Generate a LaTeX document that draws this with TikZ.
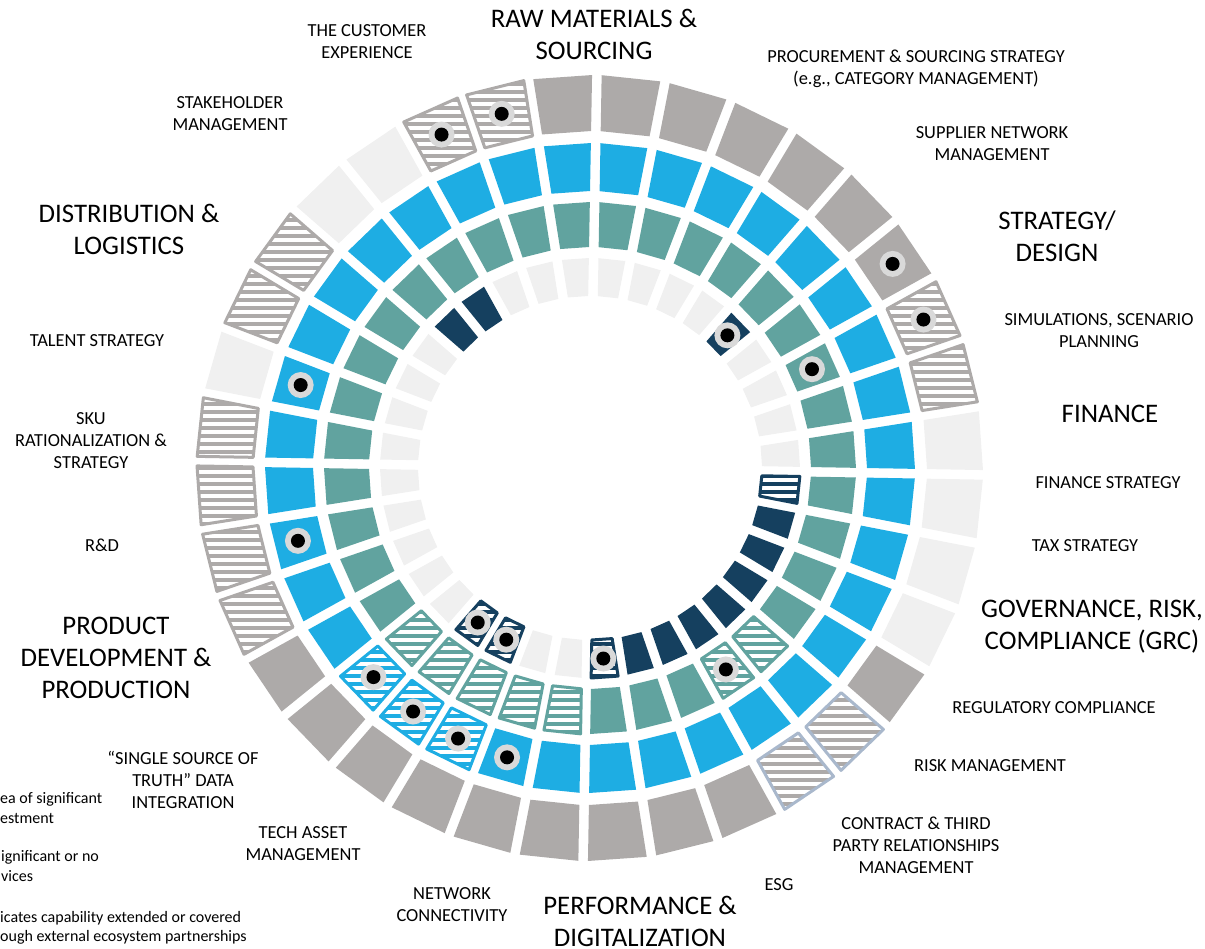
\documentclass[tikz,border=0pt]{standalone}
\usepackage{fontspec}
\setmainfont{Carlito}
\usetikzlibrary{patterns.meta}

\definecolor{stone}{HTML}{ADAAA9}
\definecolor{mist}{HTML}{F0F0F0}
\definecolor{sky}{HTML}{1EADE3}
\definecolor{sea}{HTML}{61A39F}
\definecolor{navy}{HTML}{15405F}
\definecolor{steel}{HTML}{A9B8CC}
\definecolor{halo}{HTML}{D9D9D9}

% one cell of a ring: index, inner radius, outer radius, style
\newcommand\ringcell[4]{%
  \pgfmathsetmacro\ca{10*#1-84}%
  \pgfmathsetmacro\da{5-deg(4.8/#2)}%
  \pgfmathsetmacro\db{5-deg(4.8/#3)}%
  \path[#4] ({\ca-\da}:#2) -- ({\ca+\da}:#2) -- ({\ca+\db}:#3) -- ({\ca-\db}:#3) -- cycle;}
% investment marker: index, radius
\newcommand\ringdot[2]{%
  \fill[halo] ({10*#1-84}:#2) circle (13);
  \fill[black] ({10*#1-84}:#2) circle (7);}

\tikzset{
  flat/.style={fill=#1},
  hatch/.style 2 args={draw=#1, line width=3pt, line join=round,
    pattern={Lines[angle=0,distance=8pt,line width=3.6pt]}, pattern color=#2},
  item/.style={font=\fontsize{18.4}{22}\selectfont, align=center, inner sep=0pt},
  area/.style={font=\fontsize{26.8}{32}\selectfont, align=center, inner sep=0pt},
  keytext/.style={font=\fontsize{16}{19.5}\selectfont, align=left, anchor=west, inner sep=0pt},
}

\begin{document}
\begin{tikzpicture}[x=1pt,y=-1pt]
\useasboundingbox (0,0) rectangle (1205,948);

\begin{scope}[shift={(590,468)}]
  % outer ring
  \foreach \k in {0,1,2,3,4,5,12,15,16,17,18,19,20,21,22,23,35} \ringcell{\k}{337}{393}{flat=stone};
  \foreach \k in {8,9,10,11,28,31,32} \ringcell{\k}{337}{393}{flat=mist};
  \foreach \k in {6,7,24,25,26,27,29,30,33,34} \ringcell{\k}{337}{393}{hatch={stone}{stone}};
  \foreach \k in {13,14} \ringcell{\k}{337}{393}{hatch={steel}{stone}};
  % blue ring
  \foreach \k in {0,...,19} \ringcell{\k}{277}{325}{flat=sky};
  \foreach \k in {23,...,35} \ringcell{\k}{277}{325}{flat=sky};
  \foreach \k in {20,21,22} \ringcell{\k}{277}{325}{hatch={sky}{sky}};
  % teal ring
  \foreach \k in {0,...,12} \ringcell{\k}{221}{266}{flat=sea};
  \foreach \k in {15,16,17,23,24,25,26,27,28,29,30,31,32,33,34,35} \ringcell{\k}{221}{266}{flat=sea};
  \foreach \k in {13,14,18,19,20,21,22} \ringcell{\k}{221}{266}{hatch={sea}{sea}};
  % inner ring
  \foreach \k in {0,1,2,3,5,6,7,8,18,19,22,23,24,25,26,27,28,29,30,33,34,35} \ringcell{\k}{172}{210}{flat=mist};
  \foreach \k in {4,10,11,12,13,14,15,16,31,32} \ringcell{\k}{172}{210}{flat=navy};
  \foreach \k in {9,17,20,21} \ringcell{\k}{172}{210}{hatch={navy}{navy}};
  % markers
  \foreach \k/\r in {5/365,6/365,33/365,34/365,19/301,20/301,21/301,22/301,25/301,28/301,
                     6/243,14/243,4/191,17/191,20/191,21/191} \ringdot{\k}{\r};
\end{scope}

% domains
\node[area] (raw) at (594,34) {RAW MATERIALS \&\\SOURCING};
\node[area] (strategy) at (1057,236) {STRATEGY/\\DESIGN};
\node[area] (finance) at (1110,414) {FINANCE};
\node[area] (grc) at (1092,627) {GOVERNANCE, RISK,\\COMPLIANCE (GRC)};
\node[area] (perf) at (640,921) {PERFORMANCE \&\\DIGITALIZATION};
\node[area] (product) at (116,658) {PRODUCT\\DEVELOPMENT \&\\PRODUCTION};
\node[area] (distrib) at (129,229) {DISTRIBUTION \&\\LOGISTICS};

% capabilities
\node[item] (custexp) at (367,42) {THE CUSTOMER\\EXPERIENCE};
\node[item] (procure) at (916,69) {PROCUREMENT \& SOURCING STRATEGY\\(e.g., CATEGORY MANAGEMENT)};
\node[item] (stake) at (230,114) {STAKEHOLDER\\MANAGEMENT};
\node[item] (supplier) at (992,144) {SUPPLIER NETWORK\\MANAGEMENT};
\node[item] (sim) at (1099,331) {SIMULATIONS, SCENARIO\\PLANNING};
\node[item] (talent) at (97,341) {TALENT STRATEGY};
\node[item] (sku) at (91,441) {SKU\\RATIONALIZATION \&\\STRATEGY};
\node[item] (finstrat) at (1108,483) {FINANCE STRATEGY};
\node[item] (rnd) at (102,545) {R\&D};
\node[item] (tax) at (1085,546) {TAX STRATEGY};
\node[item] (regcomp) at (1054,708) {REGULATORY COMPLIANCE};
\node[item] (risk) at (990,766) {RISK MANAGEMENT};
\node[item] (ssot) at (183,780) {“SINGLE SOURCE OF\\TRUTH” DATA\\INTEGRATION};
\node[item] (techasset) at (303,844) {TECH ASSET\\MANAGEMENT};
\node[item] (contract) at (916,845) {CONTRACT \& THIRD\\PARTY RELATIONSHIPS\\MANAGEMENT};
\node[item] (esg) at (779,885) {ESG};
\node[item] (network) at (452,905) {NETWORK\\CONNECTIVITY};

% legend
\node[keytext] (key1) at (0,808) {ea of significant\\estment};
\node[keytext] (key2) at (1,866) {ignificant or no\\vices};
\node[keytext] (key3) at (0,928) {icates capability extended or covered\\ough external ecosystem partnerships};
\end{tikzpicture}
\end{document}
